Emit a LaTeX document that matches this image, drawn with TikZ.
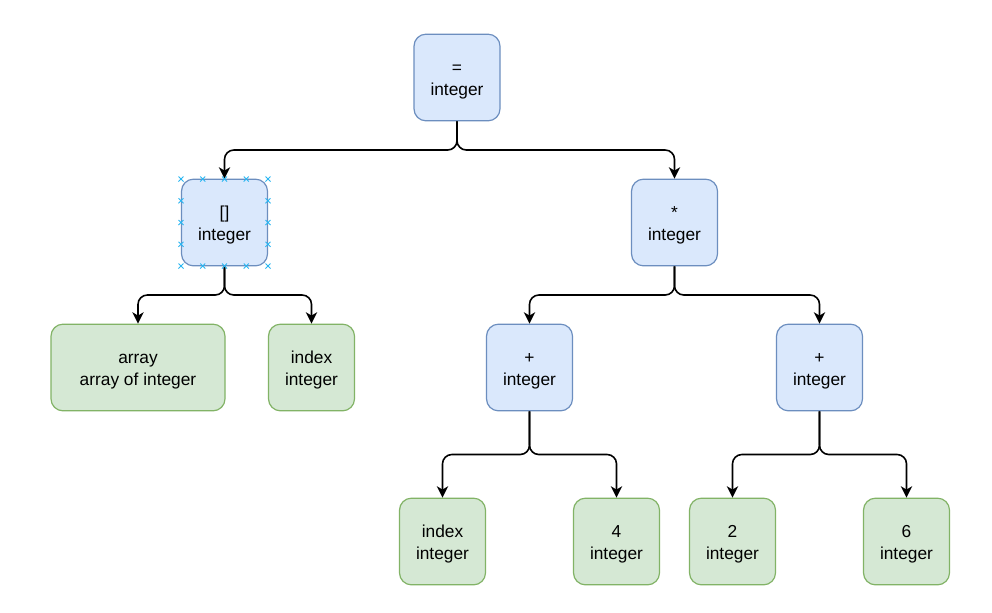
\documentclass[tikz,border=0pt]{standalone}
\usepackage{fontspec}
\setmainfont{Liberation Sans}
\usetikzlibrary{arrows.meta,calc}
\definecolor{opfill}{HTML}{DAE8FC}
\definecolor{opline}{HTML}{6C8EBF}
\definecolor{valfill}{HTML}{D5E8D4}
\definecolor{valline}{HTML}{82B366}
\definecolor{gripblue}{HTML}{29B6F2}
\newcommand{\duo}[2]{\rule{0pt}{15.5pt}#1\\#2\strut}
\begin{document}
\begin{tikzpicture}[x=0.75pt,y=-0.75pt,
        op/.style={draw=opline,fill=opfill,rectangle,rounded corners=9pt,line width=0.9pt,minimum width=64.5pt,minimum height=65pt,inner sep=0pt,align=center,font=\fontsize{13}{16.5}\selectfont},
        val/.style={op,draw=valline,fill=valfill},
        link/.style={draw=black,line width=1.2pt,rounded corners=7pt,-{Stealth[length=8.5pt,width=8.5pt,inset=2.5pt]},to path={|- ($(\tikztostart)!.5!(\tikztotarget)$) -| (\tikztotarget)}},
        grip/.style={draw=gripblue,line width=0.7pt}
      ]
      \useasboundingbox[fill=white] (0,0) rectangle (992,612);
      \node[op] (eq) at (457,77.5) {\duo{=}{integer}};
      \node[op] (idx) at (224.5,222.5) {\duo{[]}{integer}};
      \node[op] (mul) at (674.5,222.5) {\duo{*}{integer}};
      \node[val,minimum width=130.5pt] (arr) at (138,367.5) {\duo{array}{array of integer}};
      \node[val] (ind) at (311.5,367.5) {\duo{index}{integer}};
      \node[op] (addl) at (529.5,367.5) {\duo{+}{integer}};
      \node[op] (addr) at (819.5,367.5) {\duo{+}{integer}};
      \node[val] (indb) at (442.5,541.5) {\duo{index}{integer}};
      \node[val] (four) at (616.5,541.5) {\duo{4}{integer}};
      \node[val] (two) at (732.5,541.5) {\duo{2}{integer}};
      \node[val] (six) at (906.5,541.5) {\duo{6}{integer}};
      \draw[link] (eq.south) to (idx.north);
      \draw[link] (eq.south) to (mul.north);
      \draw[link] (idx.south) to (arr.north);
      \draw[link] (idx.south) to (ind.north);
      \draw[link] (mul.south) to (addl.north);
      \draw[link] (mul.south) to (addr.north);
      \draw[link] (addl.south) to (indb.north);
      \draw[link] (addl.south) to (four.north);
      \draw[link] (addr.south) to (two.north);
      \draw[link] (addr.south) to (six.north);
      \foreach \s in {0,0.25,0.5,0.75,1} {
        \draw[grip] (181+87*\s,179) +(-2.5,-2.5) -- +(2.5,2.5) +(-2.5,2.5) -- +(2.5,-2.5);
        \draw[grip] (181+87*\s,266) +(-2.5,-2.5) -- +(2.5,2.5) +(-2.5,2.5) -- +(2.5,-2.5);
      }
      \foreach \s in {0.25,0.5,0.75} {
        \draw[grip] (181,179+87*\s) +(-2.5,-2.5) -- +(2.5,2.5) +(-2.5,2.5) -- +(2.5,-2.5);
        \draw[grip] (268,179+87*\s) +(-2.5,-2.5) -- +(2.5,2.5) +(-2.5,2.5) -- +(2.5,-2.5);
      }
    \end{tikzpicture}
\end{document}
